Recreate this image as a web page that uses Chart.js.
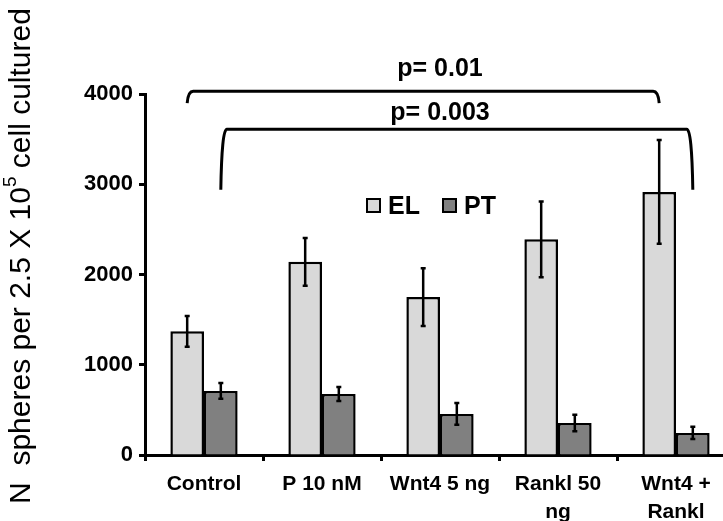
<!DOCTYPE html>
<html>
<head>
<meta charset="utf-8">
<script src="https://cdn.jsdelivr.net/npm/chart.js@4"></script>
<style>
  body { margin: 0; overflow: hidden; background: #fff; }
</style>
</head>
<body>
<canvas id="spheres" width="760" height="521"></canvas>
<script>
const categories = ['Control', 'P 10 nM', 'Wnt4 5 ng', ['Rankl 50', 'ng'], ['Wnt4 +', 'Rankl']];
const elValues = [1370, 2140, 1750, 2390, 2915];
const elErrors = [170, 265, 320, 420, 575];
const ptValues = [710, 675, 455, 355, 245];
const ptErrors = [88, 78, 120, 92, 67];
const yTicks = [0, 1000, 2000, 3000, 4000];

// significance brackets: from/to = [dataset, category], levels in data units
const brackets = [
  { label: 'p= 0.01', from: [0, 0], to: [0, 4], top: 4030, legEnd: 3900, textAt: 4280 },
  { label: 'p= 0.003', from: [1, 0], to: [1, 4], top: 3610, legEnd: 2940, textAt: 3790 }
];

const fam = '"Liberation Sans", Arial, sans-serif';

const errorBars = {
  id: 'errorBars',
  afterDatasetsDraw(chart) {
    const c = chart.ctx, y = chart.scales.y;
    c.save();
    c.strokeStyle = '#000';
    c.lineWidth = 2.5;
    chart.data.datasets.forEach((ds, i) => {
      chart.getDatasetMeta(i).data.forEach((bar, j) => {
        const v = ds.data[j], e = ds.errors[j];
        const y1 = y.getPixelForValue(v + e), y2 = y.getPixelForValue(v - e);
        c.beginPath();
        c.moveTo(bar.x, y1); c.lineTo(bar.x, y2);
        c.moveTo(bar.x - 2.5, y1); c.lineTo(bar.x + 2.5, y1);
        c.moveTo(bar.x - 2.5, y2); c.lineTo(bar.x + 2.5, y2);
        c.stroke();
      });
    });
    c.restore();
  }
};

const bracketPlugin = {
  id: 'brackets',
  afterDraw(chart) {
    const c = chart.ctx, y = chart.scales.y, area = chart.chartArea;
    const barX = p => chart.getDatasetMeta(p[0]).data[p[1]].x;
    const mid = (area.left + area.right) / 2;
    c.save();
    c.strokeStyle = '#000';
    c.lineWidth = 3;
    c.fillStyle = '#000';
    c.font = 'bold 25px ' + fam;
    c.textAlign = 'center';
    c.textBaseline = 'middle';
    brackets.forEach(b => {
      const x1 = barX(b.from), x2 = barX(b.to);
      const yt = y.getPixelForValue(b.top), yb = y.getPixelForValue(b.legEnd);
      const r = 6;
      c.beginPath();
      c.moveTo(x1, yb);
      c.quadraticCurveTo(x1 + 1, yt, x1 + r, yt);
      c.lineTo(x2 - r, yt);
      c.quadraticCurveTo(x2 - 1, yt, x2, yb);
      c.stroke();
      c.fillText(b.label, mid, y.getPixelForValue(b.textAt));
    });
    c.restore();
  }
};

const legendPlugin = {
  id: 'boxLegend',
  afterDraw(chart) {
    const c = chart.ctx;
    const items = [
      { text: 'EL', color: chart.data.datasets[0].backgroundColor, x: 367 },
      { text: 'PT', color: chart.data.datasets[1].backgroundColor, x: 443 }
    ];
    c.save();
    c.font = 'bold 25px ' + fam;
    c.textBaseline = 'middle';
    c.lineWidth = 2;
    items.forEach(it => {
      c.fillStyle = it.color;
      c.fillRect(it.x, 199, 13, 13);
      c.strokeStyle = '#000';
      c.strokeRect(it.x, 199, 13, 13);
      c.fillStyle = '#000';
      c.fillText(it.text, it.x + 21, 207);
    });
    c.restore();
  }
};

const yTitle = {
  id: 'yTitle',
  afterDraw(chart) {
    const c = chart.ctx;
    const parts = [
      { t: 'N  spheres per 2.5 X 10', f: '30px ' + fam, dy: 0 },
      { t: '5', f: '19px ' + fam, dy: -11 },
      { t: ' cell cultured', f: '30px ' + fam, dy: 0 }
    ];
    c.save();
    let total = 0;
    parts.forEach(p => { c.font = p.f; p.w = c.measureText(p.t).width; total += p.w; });
    c.translate(21, 256);
    c.rotate(-Math.PI / 2);
    c.fillStyle = '#000';
    c.textBaseline = 'middle';
    let x = -total / 2;
    parts.forEach(p => {
      c.font = p.f;
      c.fillText(p.t, x, p.dy + 1);
      x += p.w;
    });
    c.restore();
  }
};

const ctx = document.getElementById('spheres').getContext('2d');
const chart = new Chart(ctx, {
  type: 'bar',
  data: {
    labels: categories,
    datasets: [
      { label: 'EL', data: elValues, errors: elErrors, backgroundColor: '#d9d9d9', borderColor: '#000', borderWidth: 2.5 },
      { label: 'PT', data: ptValues, errors: ptErrors, backgroundColor: '#808080', borderColor: '#000', borderWidth: 2.5 }
    ]
  },
  options: {
    responsive: false,
    animation: false,
    devicePixelRatio: 1,
    categoryPercentage: 0.57,
    barPercentage: 1.0,
    layout: { padding: { top: 94, right: 25, left: 0, bottom: 0 } },
    plugins: { legend: { display: false }, tooltip: { enabled: false } },
    scales: {
      x: {
        offset: true,
        grid: { display: true, drawOnChartArea: false, drawTicks: true, tickLength: 6, tickColor: '#000', tickWidth: 3, offset: true },
        border: { color: '#000', width: 3 },
        ticks: { color: '#000', font: { family: fam, size: 21, weight: 'bold', lineHeight: 1.35 }, padding: 9, maxRotation: 0, autoSkip: false },
        afterFit: s => { s.height = 66; }
      },
      y: {
        min: 0,
        max: 4000,
        afterBuildTicks: s => { s.ticks = yTicks.map(v => ({ value: v })); },
        grid: { drawOnChartArea: false, tickLength: 6, tickColor: '#000', tickWidth: 3 },
        border: { color: '#000', width: 3 },
        ticks: { color: '#000', font: { family: fam, size: 22, weight: 'bold' }, padding: 6, callback: v => String(v) },
        afterFit: s => { s.width = 145; }
      }
    }
  },
  plugins: [errorBars, bracketPlugin, legendPlugin, yTitle]
});
</script>
</body>
</html>
